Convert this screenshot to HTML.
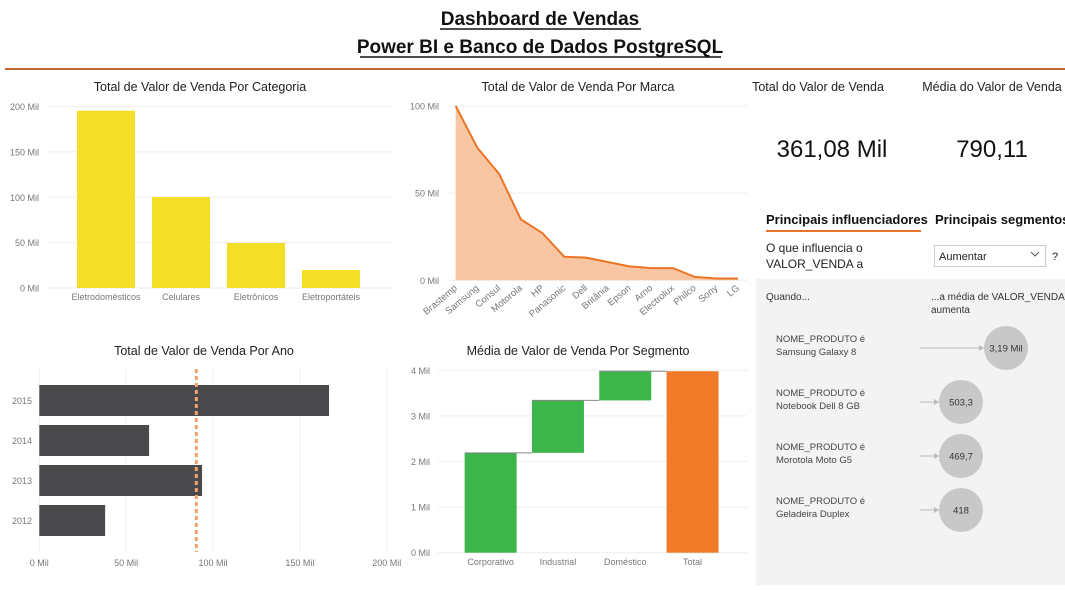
<!DOCTYPE html>
<html><head><meta charset="utf-8">
<style>
body{margin:0;width:1065px;height:585px;background:#fff;font-family:"Liberation Sans","DejaVu Sans",sans-serif;overflow:hidden;position:relative}
svg text{font-family:"Liberation Sans","DejaVu Sans",sans-serif}
</style></head><body>
<svg width="1065" height="585" viewBox="0 0 1065 585">
<text x="540" y="25" text-anchor="middle" font-size="19" font-weight="bold" fill="#111">Dashboard de Vendas</text>
<line x1="440" y1="29" x2="641" y2="29" stroke="#111" stroke-width="1.5"/>
<text x="540" y="53" text-anchor="middle" font-size="19" font-weight="bold" fill="#111">Power BI e Banco de Dados PostgreSQL</text>
<line x1="360" y1="57" x2="721" y2="57" stroke="#111" stroke-width="1.5"/>
<line x1="5" y1="69" x2="1065" y2="69" stroke="#c0632f" stroke-width="2"/>
<g id="c1"></g><g id="c2"></g><g id="c3"></g><g id="c4"></g>
<text x="818" y="91" text-anchor="middle" font-size="12.5" fill="#222">Total do Valor de Venda</text>
<text x="832" y="157" text-anchor="middle" font-size="24" fill="#111">361,08 Mil</text>
<text x="992" y="91" text-anchor="middle" font-size="12.5" fill="#222">Média do Valor de Venda</text>
<text x="992" y="157" text-anchor="middle" font-size="24" fill="#111">790,11</text>
<text x="766" y="224" font-size="13" font-weight="bold" fill="#111">Principais influenciadores</text>
<line x1="766" y1="231" x2="921" y2="231" stroke="#e8722a" stroke-width="2"/>
<text x="935" y="224" font-size="13" font-weight="bold" fill="#111">Principais segmentos</text>
<text x="766" y="252" font-size="12" fill="#222">O que influencia o</text>
<text x="766" y="268" font-size="12" fill="#222">VALOR_VENDA a</text>
<g>
<rect x="934.5" y="245.5" width="111" height="21" fill="#fff" stroke="#ccc"/>
<text x="939" y="260" font-size="11" fill="#222">Aumentar</text>
<polyline points="1031,252 1035,256 1039,252" fill="none" stroke="#555"/>
</g>
<text x="1052" y="260" font-size="11" fill="#222">?</text>
<rect x="756" y="279" width="309" height="306" fill="#f3f3f3"/>
<text x="766" y="300" font-size="10" fill="#333">Quando...</text>
<text x="931" y="300" font-size="10" fill="#333">...a média de VALOR_VENDA</text>
<text x="931" y="313" font-size="10" fill="#333">aumenta</text>
<g id="infl"></g>
</svg>
<script>
const NS="http://www.w3.org/2000/svg";
function mk(p,t,a,txt){const e=document.createElementNS(NS,t);for(const k in a)e.setAttribute(k,a[k]);if(txt!==undefined)e.textContent=txt;p.appendChild(e);return e;}
const gray="#777";
// Chart 1: category
const catNames=["Eletrodomésticos","Celulares","Eletrônicos","Eletroportáteis"];
const catValues=[195.4,100.3,49.6,19.8];
const catTicks=[0,50,100,150,200];
// Chart 2: brand
const brandNames=["Brastemp","Samsung","Consul","Motorola","HP","Panasonic","Dell","Britânia","Epson","Arno","Electrolux","Philco","Sony","LG"];
const brandValues=[100,76,61,35,27,13.5,13,10.5,8,7,7,2,1,1];
const brandTicks=[0,50,100];
// Chart 3: year
const yearNames=["2015","2014","2013","2012"];
const yearValues=[166.8,63.2,93.7,37.9];
const yearTicks=[0,50,100,150,200];
// Chart 4: segment waterfall
const segNames=["Corporativo","Industrial","Doméstico"];
const segValues=[2.19,1.15,0.64];
const segTicks=[0,1,2,3,4];
// Influencers
const inflLabels=["Samsung Galaxy 8","Notebook Dell 8 GB","Morotola Moto G5","Geladeira Duplex"];
const inflValues=["3,19 Mil","503,3","469,7","418"];

function title(g,x,y,t,n){const e=mk(g,"text",{x:x,y:y,"text-anchor":"middle","font-size":"12.5",fill:"#222"},t);

}

// C1
(function(){const g=document.getElementById("c1");
title(g,200,91,"Total de Valor de Venda Por Categoria","category-chart-title");
const y=v=>288-v*(181.5/200);const x0=68.5,bw=75;
catTicks.forEach(t=>{mk(g,"line",{x1:47,x2:393,y1:y(t),y2:y(t),stroke:"#eee"});
const e=mk(g,"text",{x:39,y:y(t)+3.5,"text-anchor":"end","font-size":"9",fill:gray},t+" Mil");
});
catValues.forEach((v,i)=>{const cx=x0+bw*(i+0.5);
const r=mk(g,"rect",{x:cx-29,y:y(v),width:58,height:288-y(v),fill:"#f5de26"});


const t=mk(g,"text",{x:cx,y:300,"text-anchor":"middle","font-size":"9",fill:gray},catNames[i]);
});})();

// C2
(function(){const g=document.getElementById("c2");
title(g,578,91,"Total de Valor de Venda Por Marca","brand-chart-title");
const y=v=>280.3-v*(174.3/100);const x=i=>455.7+i*(282.3/13);
brandTicks.forEach(t=>{mk(g,"line",{x1:447,x2:747,y1:y(t),y2:y(t),stroke:"#eee"});
const e=mk(g,"text",{x:439,y:y(t)+3.5,"text-anchor":"end","font-size":"9",fill:gray},t+" Mil");
});
let pts=brandValues.map((v,i)=>x(i)+","+y(v)).join(" ");
const a=mk(g,"polygon",{points:x(0)+","+y(0)+" "+pts+" "+x(13)+","+y(0),fill:"#f8c6a2"});

const l=mk(g,"polyline",{points:pts,fill:"none",stroke:"#ec7424","stroke-width":2});

brandNames.forEach((n,i)=>{const t=mk(g,"text",{x:x(i)+2,y:289,"text-anchor":"end","font-size":"9.5",fill:gray,transform:`rotate(-40 ${x(i)+2} 289)`},n);
});})();

// C3
(function(){const g=document.getElementById("c3");
title(g,204,355,"Total de Valor de Venda Por Ano","year-chart-title");
const x=v=>39.3+v*(347.4/200);
yearTicks.forEach(t=>{mk(g,"line",{x1:x(t),x2:x(t),y1:369,y2:552,stroke:"#eee"});
const e=mk(g,"text",{x:x(t),y:566,"text-anchor":"middle","font-size":"9",fill:gray},t+" Mil");
});
yearValues.forEach((v,i)=>{const y0=385+i*40;
const r=mk(g,"rect",{x:x(0),y:y0,width:x(v)-x(0),height:31,fill:"#4a4a4c"});

const t=mk(g,"text",{x:32,y:y0+19,"text-anchor":"end","font-size":"9",fill:gray},yearNames[i]);
});
const avg=yearValues.reduce((a,b)=>a+b,0)/yearValues.length;
const al=mk(g,"line",{x1:x(avg),x2:x(avg),y1:369,y2:552,stroke:"#f2a36b","stroke-width":3,"stroke-dasharray":"4 3"});
})();

// C4
(function(){const g=document.getElementById("c4");
title(g,578,355,"Média de Valor de Venda Por Segmento","segment-chart-title");
const y=v=>552.7-v*(182.4/4);const x0=436,bw=67.3;
segTicks.forEach(t=>{mk(g,"line",{x1:438,x2:747,y1:y(t),y2:y(t),stroke:"#eee"});
const e=mk(g,"text",{x:430,y:y(t)+3.5,"text-anchor":"end","font-size":"9",fill:gray},t+" Mil");
});
let cum=0;const names=segNames.concat(["Total"]);
names.forEach((n,i)=>{const cx=x0+bw*(i+0.5)+21;let a,b,c;
if(i<segValues.length){a=cum;b=cum+segValues[i];cum=b;c="#3cb54a";}else{a=0;b=cum;c="#f07a28";}
const r=mk(g,"rect",{x:cx-26,y:y(b),width:52,height:y(a)-y(b),fill:c});

if(i<segValues.length)mk(g,"line",{x1:cx-26,x2:cx+26+bw-52,y1:y(b),y2:y(b),stroke:"#888","stroke-width":1});
const t=mk(g,"text",{x:cx,y:565,"text-anchor":"middle","font-size":"9",fill:gray},n);
});})();

// Influencers
(function(){const g=document.getElementById("infl");
const rad=[22,22,22,22];const cxs=[1006,961,961,961];
inflLabels.forEach((n,i)=>{const cy=348+i*54;
mk(g,"text",{x:776,y:cy-6,"font-size":"9.5",fill:"#444"},"NOME_PRODUTO é");
mk(g,"text",{x:776,y:cy+7,"font-size":"9.5",fill:"#444"},n);
mk(g,"line",{x1:920,x2:cxs[i]-rad[i],y1:cy,y2:cy,stroke:"#bbb"});
mk(g,"polygon",{points:`${cxs[i]-rad[i]},${cy} ${cxs[i]-rad[i]-5},${cy-3} ${cxs[i]-rad[i]-5},${cy+3}`,fill:"#bbb"});
const c=mk(g,"circle",{cx:cxs[i],cy:cy,r:rad[i],fill:"#c8c8c8"});

mk(g,"text",{x:cxs[i],y:cy+3.5,"text-anchor":"middle","font-size":"9.5",fill:"#333"},inflValues[i]);});})();
</script>
</body></html>
